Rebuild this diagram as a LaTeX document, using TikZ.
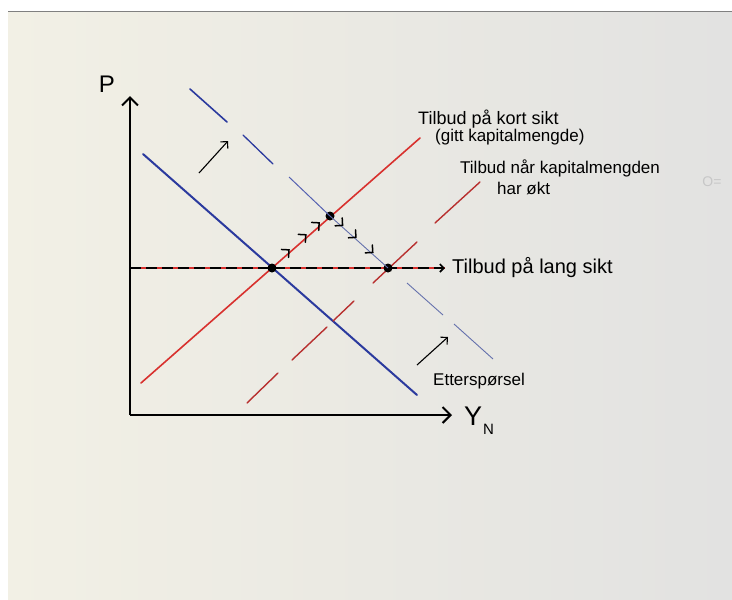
\documentclass[tikz,border=0pt]{standalone}
\usepackage{fontspec}
\setmainfont{Liberation Sans}
\usetikzlibrary{arrows.meta,calc}
\definecolor{paperL}{HTML}{F2F0E5}
\definecolor{paperR}{HTML}{E2E2E1}
\definecolor{dblue}{HTML}{2B3A9E}
\definecolor{lblue}{HTML}{6470AC}
\definecolor{dred}{HTML}{D8312E}
\definecolor{mred}{HTML}{B8302F}
\begin{document}
\begin{tikzpicture}[x=1pt,y=-1pt,
  axis/.style={line width=2pt, black, -{Straight Barb[length=8pt,width=16pt,line width=2pt]}},
  demand/.style={line width=2pt, dblue, line cap=round},
  newdemand/.style={line width=1.6pt, dblue, line cap=round},
  thinblue/.style={line width=0.9pt, lblue},
  supply/.style={line width=1.6pt, dred, line cap=round},
  newsupply/.style={line width=1.4pt, mred, line cap=round},
  shiftarrow/.style={line width=1.1pt, black, -{Straight Barb[length=5pt,width=10pt,line width=1.1pt]}},
  chev/.style={black, line width=1.5pt, line cap=round, line join=miter},
  eq/.style={circle, fill=black, inner sep=0pt, minimum size=9pt},
  lbl/.style={inner sep=0pt, anchor=west, font=\fontsize{17}{19}\selectfont},
]
\useasboundingbox (0,0) rectangle (732,600);
\fill[white] (0,0) rectangle (732,600);
\shade[left color=paperL, right color=paperR] (8,11) rectangle (732,600);
\draw[gray, line width=1pt] (8,11) -- (732,11);

% coordinates
\coordinate (o) at (130,415);
\coordinate (ytop) at (130,96);
\coordinate (xend) at (452,415);
\coordinate (d0a) at (143,154);
\coordinate (d0b) at (417,395);
\coordinate (s0a) at (141,383);
\coordinate (s0b) at (420,138);
\coordinate (lra) at (130,268);
\coordinate (lrb) at (445,268);

% axes
\draw[axis] (o) -- (ytop);
\draw[axis] (o) -- (xend);
\node[inner sep=0pt, font=\fontsize{24}{26}\selectfont] (P) at (107,84) {P};
\node[inner sep=0pt, anchor=west, font=\fontsize{27}{29}\selectfont] (Y) at (464,416) {Y};
\node[inner sep=0pt, anchor=west, font=\fontsize{15}{16}\selectfont] (N) at ([xshift=0.5pt,yshift=-13pt]Y.east) {N};

% original demand and short-run supply
\draw[demand] (d0a) -- (d0b);
\draw[supply] (s0a) -- (s0b);

% new supply (dashed red)
\coordinate (ns1a) at (247,403); \coordinate (ns1b) at (278,373);
\coordinate (ns2a) at (292,360); \coordinate (ns2b) at (327,327);
\coordinate (ns3a) at (333,321); \coordinate (ns3b) at (354,301);
\coordinate (ns4a) at (373,283); \coordinate (ns4b) at (417,242);
\coordinate (ns5a) at (435,223); \coordinate (ns5b) at (480,182);
\draw[newsupply] (ns1a) -- (ns1b);
\draw[newsupply] (ns2a) -- (ns2b);
\draw[newsupply] (ns3a) -- (ns3b);
\draw[newsupply] (ns4a) -- (ns4b);
\draw[newsupply] (ns5a) -- (ns5b);

% long-run supply
\draw[line width=1.4pt, dred] (lra) -- (lrb);
\draw[line width=2pt, black, dash pattern=on 11pt off 5pt, -{Straight Barb[length=4pt,width=8pt,line width=1.6pt]}] (lra) -- (lrb);

% equilibria
\node[eq] (E0) at (272,268) {};
\node[eq] (E1) at (330,216) {};
\node[eq] (E2) at (388,268) {};

% new demand (dashed blue)
\coordinate (nd1a) at (190,89);  \coordinate (nd1b) at (227,122);
\coordinate (nd2a) at (243,135); \coordinate (nd2b) at (273,164);
\coordinate (nd3a) at (289,177);
\coordinate (nd5a) at (407,283); \coordinate (nd5b) at (443,315);
\coordinate (nd6a) at (454,324); \coordinate (nd6b) at (493,359);
\draw[newdemand] (nd1a) -- (nd1b);
\draw[newdemand, line width=1.3pt] (nd2a) -- (nd2b);
\draw[line width=1pt, dblue!80!white] (nd3a) -- (E1.center);
\draw[thinblue] (E1.center) -- (E2.center);
\draw[thinblue] (nd5a) -- (nd5b);
\draw[thinblue] (nd6a) -- (nd6b);

% adjustment chevrons
\foreach \t in {0.31,0.60,0.83}{
  \coordinate (cp) at ($(E0)!\t!(E1)+(-1,-2)$);
  \coordinate (cq) at ($(E0)!\t-0.2!(E1)+(-1,-2)$);
  \draw[chev] ($(cp)!7.5pt!45:(cq)$) -- (cp) -- ($(cp)!7.5pt!-45:(cq)$);
}
\foreach \t in {0.20,0.43,0.72}{
  \coordinate (cp) at ($(E1)!\t!(E2)+(1,-1)$);
  \coordinate (cq) at ($(E1)!\t-0.2!(E2)+(1,-1)$);
  \draw[chev] ($(cp)!7.5pt!45:(cq)$) -- (cp) -- ($(cp)!7.5pt!-45:(cq)$);
}

% shift arrows
\coordinate (sh1a) at (199,173); \coordinate (sh1b) at (228,141);
\coordinate (sh2a) at (417,365); \coordinate (sh2b) at (448,337);
\draw[shiftarrow] (sh1a) -- (sh1b);
\draw[shiftarrow] (sh2a) -- (sh2b);

% labels
\node[lbl, font=\fontsize{18}{20}\selectfont] (l1) at (418,119) {Tilbud på kort sikt};
\node[lbl] (l2) at (435,137) {(gitt kapitalmengde)};
\node[lbl] (l3) at (460,168) {Tilbud når kapitalmengden};
\node[lbl] (l4) at (497,188) {har økt};
\node[lbl, font=\fontsize{20}{22}\selectfont] (l5) at (452,268) {Tilbud på lang sikt};
\node[lbl] (l6) at (433,381) {Etterspørsel};
\node[inner sep=0pt, text=black!22, font=\fontsize{14}{16}\selectfont] (smudge) at (712,182) {O=};
\end{tikzpicture}
\end{document}
